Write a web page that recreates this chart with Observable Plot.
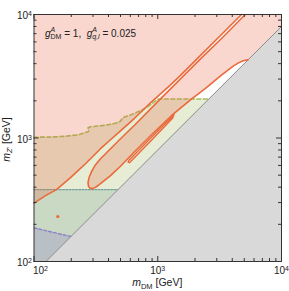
<!DOCTYPE html>
<html>
<head>
<meta charset="utf-8">
<script src="https://cdn.jsdelivr.net/npm/d3@7"></script>
<script src="https://cdn.jsdelivr.net/npm/@observablehq/plot@0.6"></script>
<style>
  body { margin: 0; background: #fff; }
  svg { display: block; }
</style>
</head>
<body>
<div id="chart"></div>
<script>
// ---------- data (GeV) ----------
const xDomain = [100, 10000];
const yDomain = [100, 10000];
const unitarityRatio = 0.8;             // grey region: m_Z' < 0.8 m_DM

// relic-density contour, upper-left branch
const contourA_x = [100, 123.9, 152, 197.2, 260.7, 344.6, 415.2, 500, 648.7, 873.8, 1268, 1527, 2216, 3215, 4750];
const contourA_y = [297, 341.5, 381.8, 477, 619, 818.9, 967.7, 1144, 1444, 1927, 2694, 3215, 4663, 6767, 10000];

// relic-density contour, hairpin (upper branch -> tip -> lower branch -> unitarity line)
const contourU_x = [5100, 3215, 2216, 1527, 1052, 648.7, 500, 415.2, 344.6, 314.1, 291.6, 278.3, 273.2, 275.7, 283.5, 297, 320, 344.6, 415.2, 500, 648.7, 873.8, 1341, 1839, 2431, 3215, 4094, 4494, 4840, 5118, 5362];
const contourU_y = [10000, 6281, 4370, 3011, 2076, 1268, 986, 818.9, 679.6, 607.8, 533.8, 477, 434.9, 407.4, 392.6, 389, 403.6, 426.8, 495.3, 591, 774.3, 1043, 1570, 2037, 2523, 3184, 3836, 4056, 4209, 4265, 4290];

// small closed island contour
const islandC_x = [574.9, 585.7, 873.8, 1353, 1316, 873.8, 591, 574.9];
const islandC_y = [636.8, 661, 995.4, 1541, 1444, 941.3, 631, 636.8];

// tiny contour blob
const blob_x = [155.7];
const blob_y = [231];

// dashed green limit (upper edge of green region)
const greenTop_x = [100, 135.9, 179.7, 228.9, 256, 273.2, 278.3, 273.2, 286.2, 314.1, 378.2, 455.6, 500, 514.1, 533.8, 636.8, 767.1, 873.8, 959, 1014];
const greenTop_y = [1014, 1018, 1033, 1062, 1103, 1123, 1166, 1210, 1233, 1244, 1268, 1316, 1366, 1431, 1472, 1570, 1708, 1857, 2000, 2070];
const greenLevel = 2070;

// dotted limit
const dottedLevel = 382;

// purple dashed limit
const purple_x = [100, 199.1];
const purple_y = [187.2, 159.3];

// ticks
const majorTicks = [100, 1000, 10000];
const minorTicks = [200, 300, 400, 500, 600, 700, 800, 900, 2000, 3000, 4000, 5000, 6000, 7000, 8000, 9000];

// colours
const cOrange = "#ea6a3c";
const cPink = "#e8603a";
const cGreenLight = "#e6edd4";
const cGreenMid = "#cad9c4";
const cBlueGrey = "#b9c0c5";
const cGrey = "#d9d9d9";
const cGreenLine = "#a6c05a";
const cDotted = "#739e9b";
const cPurple = "#8c80c8";
const cFrame = "#333";
const FONT = "Liberation Sans, Arial, sans-serif";

// ---------- derived tables ----------
const pts = (xs, ys) => xs.map((x, i) => ({x, y: ys[i]}));
const [xMin, xMax] = xDomain;
const [yMin, yMax] = yDomain;
const diagLow = {x: yMin / unitarityRatio, y: yMin};
const diagHigh = {x: xMax, y: xMax * unitarityRatio};

const contourA = pts(contourA_x, contourA_y);
const contourU = pts(contourU_x, contourU_y);
const islandC = pts(islandC_x, islandC_y);
const blob = pts(blob_x, blob_y);
const greenTop = [...pts(greenTop_x, greenTop_y), {x: greenLevel / unitarityRatio, y: greenLevel}];
const dottedLine = [{x: xMin, y: dottedLevel}, {x: dottedLevel / unitarityRatio, y: dottedLevel}];
const purpleLine = pts(purple_x, purple_y);

const pinkA = [...contourA, {x: xMin, y: yMax}];
const pinkB = [...contourU, diagHigh, {x: xMax, y: yMax}];
const greenPoly = [...greenTop, diagLow, {x: xMin, y: yMin}];
const midPoly = [...dottedLine, diagLow, {x: xMin, y: yMin}];
const purplePoly = [...purpleLine, diagLow, {x: xMin, y: yMin}];
const greyPoly = [diagLow, diagHigh, {x: xMax, y: yMin}];
const diagLine = [diagLow, diagHigh];

const W = 289, H = 291, mL = 33.5, mR = 8, mT = 14, mB = 30;
const innerW = W - mL - mR, innerH = H - mT - mB;
const poly = (data, fill, extra = {}) => Plot.line(data, {x: "x", y: "y", fill, stroke: "none", ...extra});
const supFmt = d => "10^" + Math.round(Math.log10(d));

const plot = Plot.plot({
  width: W, height: H,
  marginLeft: mL, marginRight: mR, marginTop: mT, marginBottom: mB,
  style: {fontFamily: FONT, fontSize: "10px", background: "#fff", color: "#222"},
  x: {type: "log", domain: xDomain},
  y: {type: "log", domain: yDomain},
  marks: [
    poly(greenPoly, cGreenLight),
    poly(midPoly, cGreenMid),
    poly(purplePoly, cBlueGrey),
    Plot.line(greenTop, {x: "x", y: "y", stroke: cGreenLine, strokeWidth: 1.6, strokeDasharray: "4,2.5"}),
    Plot.line(dottedLine, {x: "x", y: "y", stroke: cDotted, strokeWidth: 1.2, strokeDasharray: "1.8,1.4"}),
    Plot.line(purpleLine, {x: "x", y: "y", stroke: cPurple, strokeWidth: 1.4, strokeDasharray: "3,2"}),
    poly(pinkA, cPink, {fillOpacity: 0.25}),
    poly(pinkB, cPink, {fillOpacity: 0.25}),
    poly(greyPoly, cGrey),
    Plot.line(diagLine, {x: "x", y: "y", stroke: "#8a8a8a", strokeWidth: 1}),
    Plot.line(contourA, {x: "x", y: "y", stroke: cOrange, strokeWidth: 1.6}),
    Plot.line(contourU, {x: "x", y: "y", stroke: cOrange, strokeWidth: 1.6}),
    Plot.line(islandC, {x: "x", y: "y", stroke: cOrange, strokeWidth: 1.4}),
    Plot.dot(blob, {x: "x", y: "y", r: 1.6, fill: cOrange, stroke: "none"}),
    Plot.frame({stroke: cFrame, strokeWidth: 1}),
    // inward ticks on all four sides
    Plot.ruleX(majorTicks, {x: d => d, insetTop: innerH - 5, stroke: cFrame}),
    Plot.ruleX(majorTicks, {x: d => d, insetBottom: innerH - 5, stroke: cFrame}),
    Plot.ruleX(minorTicks, {x: d => d, insetTop: innerH - 3, stroke: cFrame}),
    Plot.ruleX(minorTicks, {x: d => d, insetBottom: innerH - 3, stroke: cFrame}),
    Plot.ruleY(majorTicks, {y: d => d, insetRight: innerW - 5, stroke: cFrame}),
    Plot.ruleY(majorTicks, {y: d => d, insetLeft: innerW - 5, stroke: cFrame}),
    Plot.ruleY(minorTicks, {y: d => d, insetRight: innerW - 3, stroke: cFrame}),
    Plot.ruleY(minorTicks, {y: d => d, insetLeft: innerW - 3, stroke: cFrame}),
    // tick labels
    Plot.axisX([majorTicks[0]], {anchor: "bottom", tickSize: 0, tickPadding: 5.5, tickFormat: supFmt, label: null, dx: 6.5}),
    Plot.axisX(majorTicks.slice(1), {anchor: "bottom", tickSize: 0, tickPadding: 5.5, tickFormat: supFmt, label: null}),
    Plot.axisY(majorTicks, {anchor: "left", tickSize: 0, tickPadding: 2, tickFormat: supFmt, label: null, dy: 1.5})
  ]
});

document.getElementById("chart").appendChild(plot);

// superscripts on tick labels
const svg = d3.select(plot);
svg.selectAll("g[aria-label$='tick label'] text").each(function () {
  const t = this.textContent;
  if (!t.includes("^")) return;
  const [base, exp] = t.split("^");
  const sel = d3.select(this);
  sel.text(base);
  sel.append("tspan").attr("dy", "-0.45em").attr("font-size", "7px").text(exp);
});

// axis titles
const xt = svg.append("text")
  .attr("x", mL + innerW / 2).attr("y", 286)
  .attr("text-anchor", "middle").attr("font-family", FONT).attr("font-size", 10.5).attr("fill", "#222");
xt.append("tspan").attr("font-style", "italic").text("m");
xt.append("tspan").attr("font-size", 7.5).attr("dy", 2.5).text("DM");
xt.append("tspan").attr("dy", -2.5).text(" [GeV]");

const yt = svg.append("text")
  .attr("transform", `translate(9.7,${mT + innerH / 2 + 2}) rotate(-90)`)
  .attr("text-anchor", "middle").attr("font-family", FONT).attr("font-size", 10.5).attr("fill", "#222");
yt.append("tspan").attr("font-style", "italic").text("m");
yt.append("tspan").attr("font-size", 7.5).attr("dy", 2.5).attr("font-style", "italic").text("Z′");
yt.append("tspan").attr("dy", -2.5).text(" [GeV]");

// coupling annotation
const an = svg.append("text")
  .attr("x", 45).attr("y", 36.5)
  .attr("text-anchor", "start")
  .attr("font-family", FONT).attr("font-size", 10).attr("fill", "#222");
an.append("tspan").attr("font-style", "italic").text("g");
an.append("tspan").attr("font-size", 7).attr("font-style", "italic").attr("dy", -4.5).text("A");
an.append("tspan").attr("font-size", 7).attr("dx", -4.7).attr("dy", 7).text("DM");
an.append("tspan").attr("dy", -2.5).text(" = 1,  ");
an.append("tspan").attr("font-style", "italic").text("g");
an.append("tspan").attr("font-size", 7).attr("font-style", "italic").attr("dy", -4.5).text("A");
an.append("tspan").attr("font-size", 7).attr("font-style", "italic").attr("dx", -4.7).attr("dy", 7).text("q,l");
an.append("tspan").attr("dy", -2.5).text(" = 0.025");
</script>
</body>
</html>
